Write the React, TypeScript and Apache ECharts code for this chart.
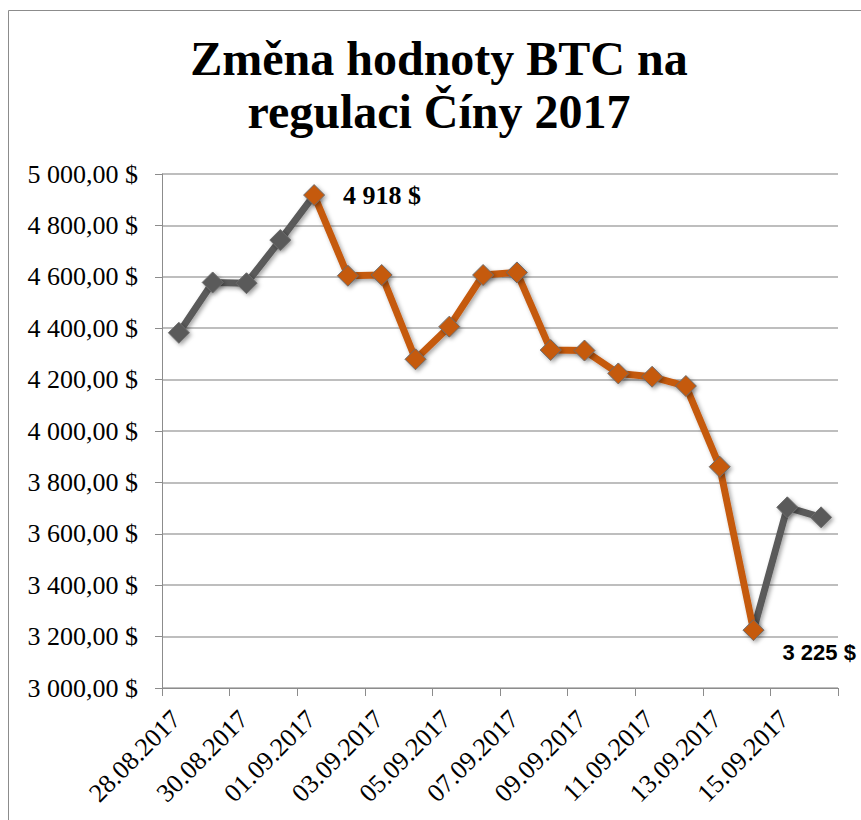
import React, { useEffect, useRef } from 'react';
import * as echarts from 'echarts';

const categories: string[] = [
  '28.08.2017', '29.08.2017', '30.08.2017', '31.08.2017', '01.09.2017',
  '02.09.2017', '03.09.2017', '04.09.2017', '05.09.2017', '06.09.2017',
  '07.09.2017', '08.09.2017', '09.09.2017', '10.09.2017', '11.09.2017',
  '12.09.2017', '13.09.2017', '14.09.2017', '15.09.2017', '16.09.2017',
];

const prices: number[] = [
  4382, 4578, 4575, 4743, 4918,
  4604, 4607, 4279, 4406, 4607,
  4617, 4315, 4313, 4224, 4211,
  4175, 3861, 3225, 3703, 3664,
];

// index range of the highlighted (orange) part of the line
const regulationStart = 4;
const regulationEnd = 17;
// points carrying a value label
const labelledPoints: number[] = [4, 17];

const yMin = 3000;
const yMax = 5000;
const yStep = 200;

const TITLE = 'Změna hodnoty BTC na\nregulaci Číny 2017';

const GRAY = '#5a5a5a';
const ORANGE = '#c55a11';
const AXIS = '#8c8c8c';
const GRID = '#a8a8a8';

const fmt = (v: number) => String(Math.round(v)).replace(/\B(?=(\d{3})+(?!\d))/g, ' ');

const shadow = {
  shadowColor: 'rgba(0,0,0,0.35)',
  shadowBlur: 4,
  shadowOffsetX: 2,
  shadowOffsetY: 2,
};

function segment(from: number, to: number, markerFrom: number, markerTo: number) {
  return prices.map((v, i) => {
    if (i < from || i > to) return null;
    const item: any = { value: v };
    if (i < markerFrom || i > markerTo) item.symbol = 'none';
    return item;
  });
}

function buildSeries() {
  const base = (color: string) => ({
    type: 'line',
    symbol: 'diamond',
    symbolSize: 21,
    showSymbol: true,
    showAllSymbol: true,
    connectNulls: false,
    lineStyle: { color, width: 7, ...shadow },
    itemStyle: { color, borderColor: '#6b6b6b', borderWidth: 1, ...shadow },
    emphasis: { disabled: true },
    label: { show: false },
  });
  const before: any = { ...base(GRAY), z: 2, data: segment(0, regulationStart, 0, regulationStart - 1) };
  const after: any = {
    ...base(GRAY), z: 2,
    data: segment(regulationEnd, prices.length - 1, regulationEnd + 1, prices.length - 1),
  };
  const orangeData = segment(regulationStart, regulationEnd, regulationStart, regulationEnd).map((d: any, i) => {
    if (d && labelledPoints.includes(i)) {
      const isPeak = i === labelledPoints[0];
      d.label = isPeak
        ? {
            show: true, position: 'right', distance: 18,
            formatter: (p: any) => `${fmt(p.value)} $`,
            fontFamily: 'Liberation Serif', fontWeight: 'bold', fontSize: 26, color: '#000',
          }
        : {
            show: true, position: 'right', distance: 18, offset: [0, 22],
            formatter: (p: any) => `${fmt(p.value)} $`,
            fontFamily: 'Liberation Sans', fontWeight: 'bold', fontSize: 22, color: '#000',
          };
    }
    return d;
  });
  const mid: any = { ...base(ORANGE), z: 3, data: orangeData };
  return [before, after, mid];
}

export default function App() {
  const ref = useRef<HTMLDivElement>(null);
  useEffect(() => {
    const chart = echarts.init(ref.current!, null, { renderer: 'svg' });
    chart.setOption({
      animation: false,
      backgroundColor: '#ffffff',
      graphic: [
        {
          type: 'rect',
          shape: { x: 8.5, y: 10.5, width: 1200, height: 1200 },
          style: { fill: 'none', stroke: AXIS, lineWidth: 1 },
          silent: true,
        },
        {
          type: 'text',
          x: 439,
          y: 32,
          style: {
            text: TITLE,
            font: 'bold 48px "Liberation Serif"',
            fill: '#000',
            textAlign: 'center',
            textVerticalAlign: 'top',
            lineHeight: 53,
          },
          silent: true,
        },
      ],
      grid: { left: 162, top: 174, right: 23, bottom: 132, containLabel: false },
      xAxis: {
        type: 'category',
        data: categories,
        boundaryGap: true,
        axisLine: { lineStyle: { color: AXIS, width: 1 } },
        axisTick: { show: true, interval: 1, length: 8, lineStyle: { color: AXIS } },
        axisLabel: {
          interval: 1,
          rotate: 45,
          margin: 24,
          padding: [0, 4, 0, 0],
          fontFamily: 'Liberation Serif',
          fontSize: 26,
          color: '#000',
        },
        splitLine: { show: false },
      },
      yAxis: {
        type: 'value',
        min: yMin,
        max: yMax,
        interval: yStep,
        axisLine: { show: true, lineStyle: { color: AXIS, width: 1 } },
        axisTick: { show: true, length: 7, lineStyle: { color: AXIS } },
        axisLabel: {
          margin: 24,
          fontFamily: 'Liberation Serif',
          fontSize: 26,
          color: '#000',
          formatter: (v: number) => `${fmt(v)},00 $`,
        },
        splitLine: { show: true, lineStyle: { color: GRID, width: 1.5 } },
      },
      series: buildSeries(),
    });
    return () => chart.dispose();
  }, []);
  return (
    <div
      ref={ref}
      style={{ position: 'fixed', left: 0, top: 0, width: 861, height: 820, background: '#fff' }}
    />
  );
}
